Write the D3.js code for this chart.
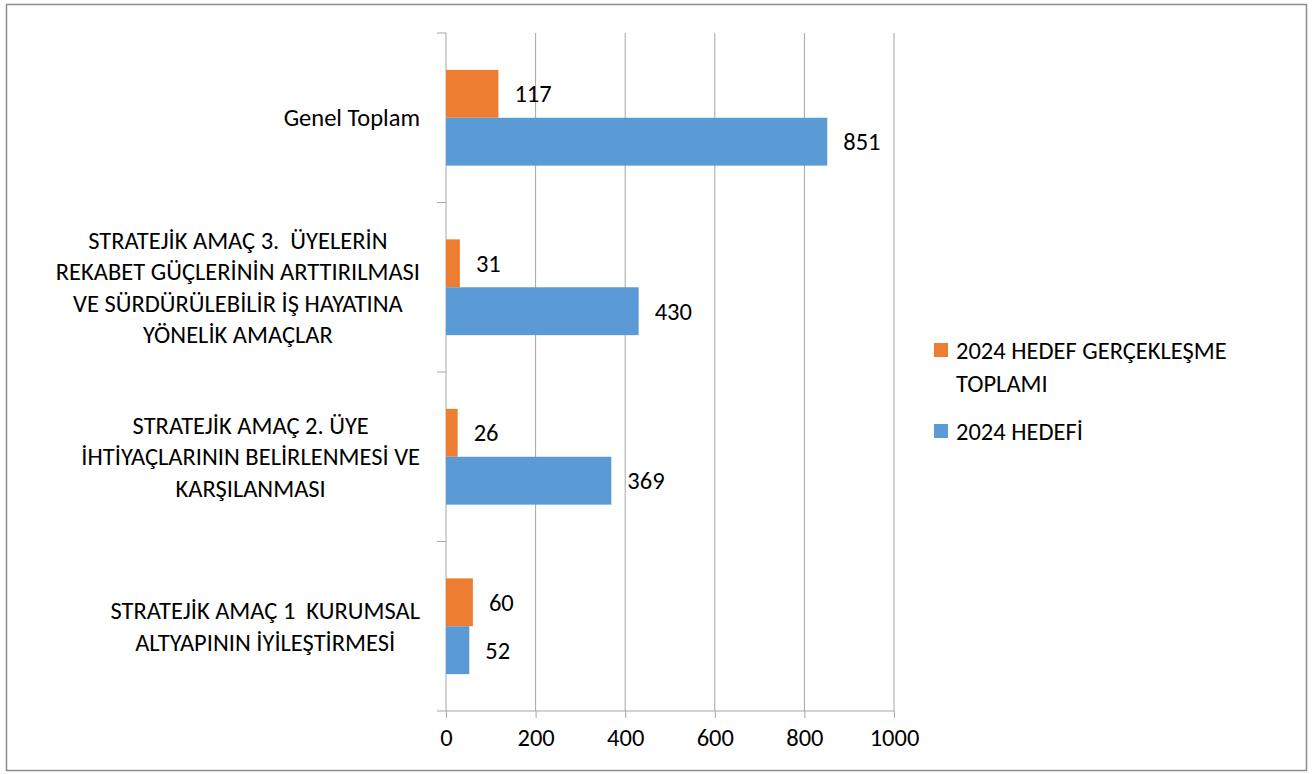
<!DOCTYPE html>
<html>
<head>
<meta charset="utf-8">
<script src="https://cdn.jsdelivr.net/npm/d3@7"></script>
<style>
  body { margin: 0; background: #fff; }
  svg { font-family: Carlito, Lato, "Noto Sans", sans-serif; }
  text { white-space: pre; }
</style>
</head>
<body>
<svg></svg>
<script>
// categories, top to bottom, each split in its display lines
const categories = ["Genel Toplam", "Amaç 3", "Amaç 2", "Amaç 1"];
const categoryLines = [
    ["Genel Toplam"],
    ["STRATEJİK AMAÇ 3.  ÜYELERİN", "REKABET GÜÇLERİNİN ARTTIRILMASI", "VE SÜRDÜRÜLEBİLİR İŞ HAYATINA", "YÖNELİK AMAÇLAR"],
    ["STRATEJİK AMAÇ 2. ÜYE", "İHTİYAÇLARININ BELİRLENMESİ VE", "KARŞILANMASI"],
    ["STRATEJİK AMAÇ 1  KURUMSAL", "ALTYAPININ İYİLEŞTİRMESİ"]
];
const seriesNames = ["2024 HEDEF GERÇEKLEŞME TOPLAMI", "2024 HEDEFİ"];
const gerceklesme = [117, 31, 26, 60];
const hedef = [851, 430, 369, 52];
const xTicks = [0, 200, 400, 600, 800, 1000];

const colors = ["#ED7D31", "#5B9BD5"];
const width = 1312, height = 774;
const margin = { top: 33, left: 446, right: 418, bottom: 63 };
const fontSize = 24.5;

const svg = d3.select("svg")
    .attr("width", width)
    .attr("height", height);

// outer frame
svg.append("rect")
    .attr("x", 6.5).attr("y", 4.5)
    .attr("width", 1300).attr("height", 766)
    .attr("fill", "none")
    .attr("stroke", "#8c8c8c")
    .attr("stroke-width", 1.5);

const x = d3.scaleLinear()
    .domain([0, 1000])
    .range([margin.left, width - margin.right]);

const y = d3.scaleBand()
    .domain(categories)
    .range([margin.top, height - margin.bottom]);

const inner = d3.scaleBand()
    .domain([0, 1])
    .range([0, y.bandwidth()])
    .paddingOuter(0.77)
    .paddingInner(0);

// vertical gridlines
svg.append("g")
    .selectAll("line")
    .data(xTicks.slice(1))
    .enter()
    .append("line")
    .attr("x1", d => x(d)).attr("x2", d => x(d))
    .attr("y1", margin.top).attr("y2", height - margin.bottom)
    .attr("stroke", "#a6a6a6")
    .attr("stroke-width", 1);

// x axis
const xAxis = svg.append("g")
    .attr("transform", "translate(0," + (height - margin.bottom) + ")")
    .call(d3.axisBottom(x).tickValues(xTicks).tickFormat(d3.format("d")).tickSize(7).tickPadding(11));
xAxis.select(".domain").remove();
xAxis.append("line")
    .attr("x1", margin.left - 9).attr("x2", x(1000))
    .attr("stroke", "#a6a6a6");
xAxis.selectAll(".tick line").attr("stroke", "#a6a6a6");
xAxis.selectAll(".tick text")
    .attr("fill", "#000")
    .style("font-size", fontSize + "px")
    .style("font-family", "Carlito, Lato, sans-serif");

// y axis: line plus ticks at band boundaries
const yAxis = svg.append("g");
yAxis.append("line")
    .attr("x1", margin.left).attr("x2", margin.left)
    .attr("y1", margin.top).attr("y2", height - margin.bottom)
    .attr("stroke", "#a6a6a6");
yAxis.selectAll(".btick")
    .data(categories)
    .enter()
    .append("line")
    .attr("x1", margin.left - 9).attr("x2", margin.left)
    .attr("y1", d => y(d)).attr("y2", d => y(d))
    .attr("stroke", "#a6a6a6");

// category labels: block of centered lines, right edge at axis - 26
const lineH = 31.5;
categories.forEach(function(c, i) {
    const lines = categoryLines[i];
    const g = svg.append("g");
    const texts = g.selectAll("text")
        .data(lines)
        .enter()
        .append("text")
        .attr("y", (d, j) => y(c) + y.bandwidth() / 2 + (j - (lines.length - 1) / 2) * lineH)
        .attr("dy", "0.35em")
        .attr("text-anchor", "middle")
        .style("font-size", fontSize + "px")
        .text(d => d);
    let maxW = 0;
    texts.each(function() { maxW = Math.max(maxW, this.getComputedTextLength()); });
    texts.attr("x", margin.left - 26 - maxW / 2);
});

// bars
const series = [gerceklesme, hedef];
series.forEach(function(vals, s) {
    const g = svg.append("g");
    g.selectAll("rect")
        .data(vals)
        .enter()
        .append("rect")
        .attr("x", x(0))
        .attr("y", (d, i) => y(categories[i]) + inner(s))
        .attr("width", d => x(d) - x(0))
        .attr("height", inner.bandwidth())
        .attr("fill", colors[s]);
    g.selectAll("text")
        .data(vals)
        .enter()
        .append("text")
        .attr("x", d => x(d) + 16)
        .attr("y", (d, i) => y(categories[i]) + inner(s) + inner.bandwidth() / 2)
        .attr("dy", "0.35em")
        .style("font-size", fontSize + "px")
        .text(d => d);
});

// legend
const legend = svg.append("g").attr("transform", "translate(934,0)");
const legendItems = [
    { lines: ["2024 HEDEF GERÇEKLEŞME", "TOPLAMI"], y: 350 },
    { lines: ["2024 HEDEFİ"], y: 431 }
];
legendItems.forEach(function(item, i) {
    legend.append("rect")
        .attr("x", 0).attr("y", item.y - 7)
        .attr("width", 14).attr("height", 14)
        .attr("fill", colors[i]);
    legend.selectAll(".l" + i)
        .data(item.lines)
        .enter()
        .append("text")
        .attr("x", 22)
        .attr("y", (d, j) => item.y + j * 33)
        .attr("dy", "0.35em")
        .style("font-size", fontSize + "px")
        .text(d => d);
});
</script>
</body>
</html>
